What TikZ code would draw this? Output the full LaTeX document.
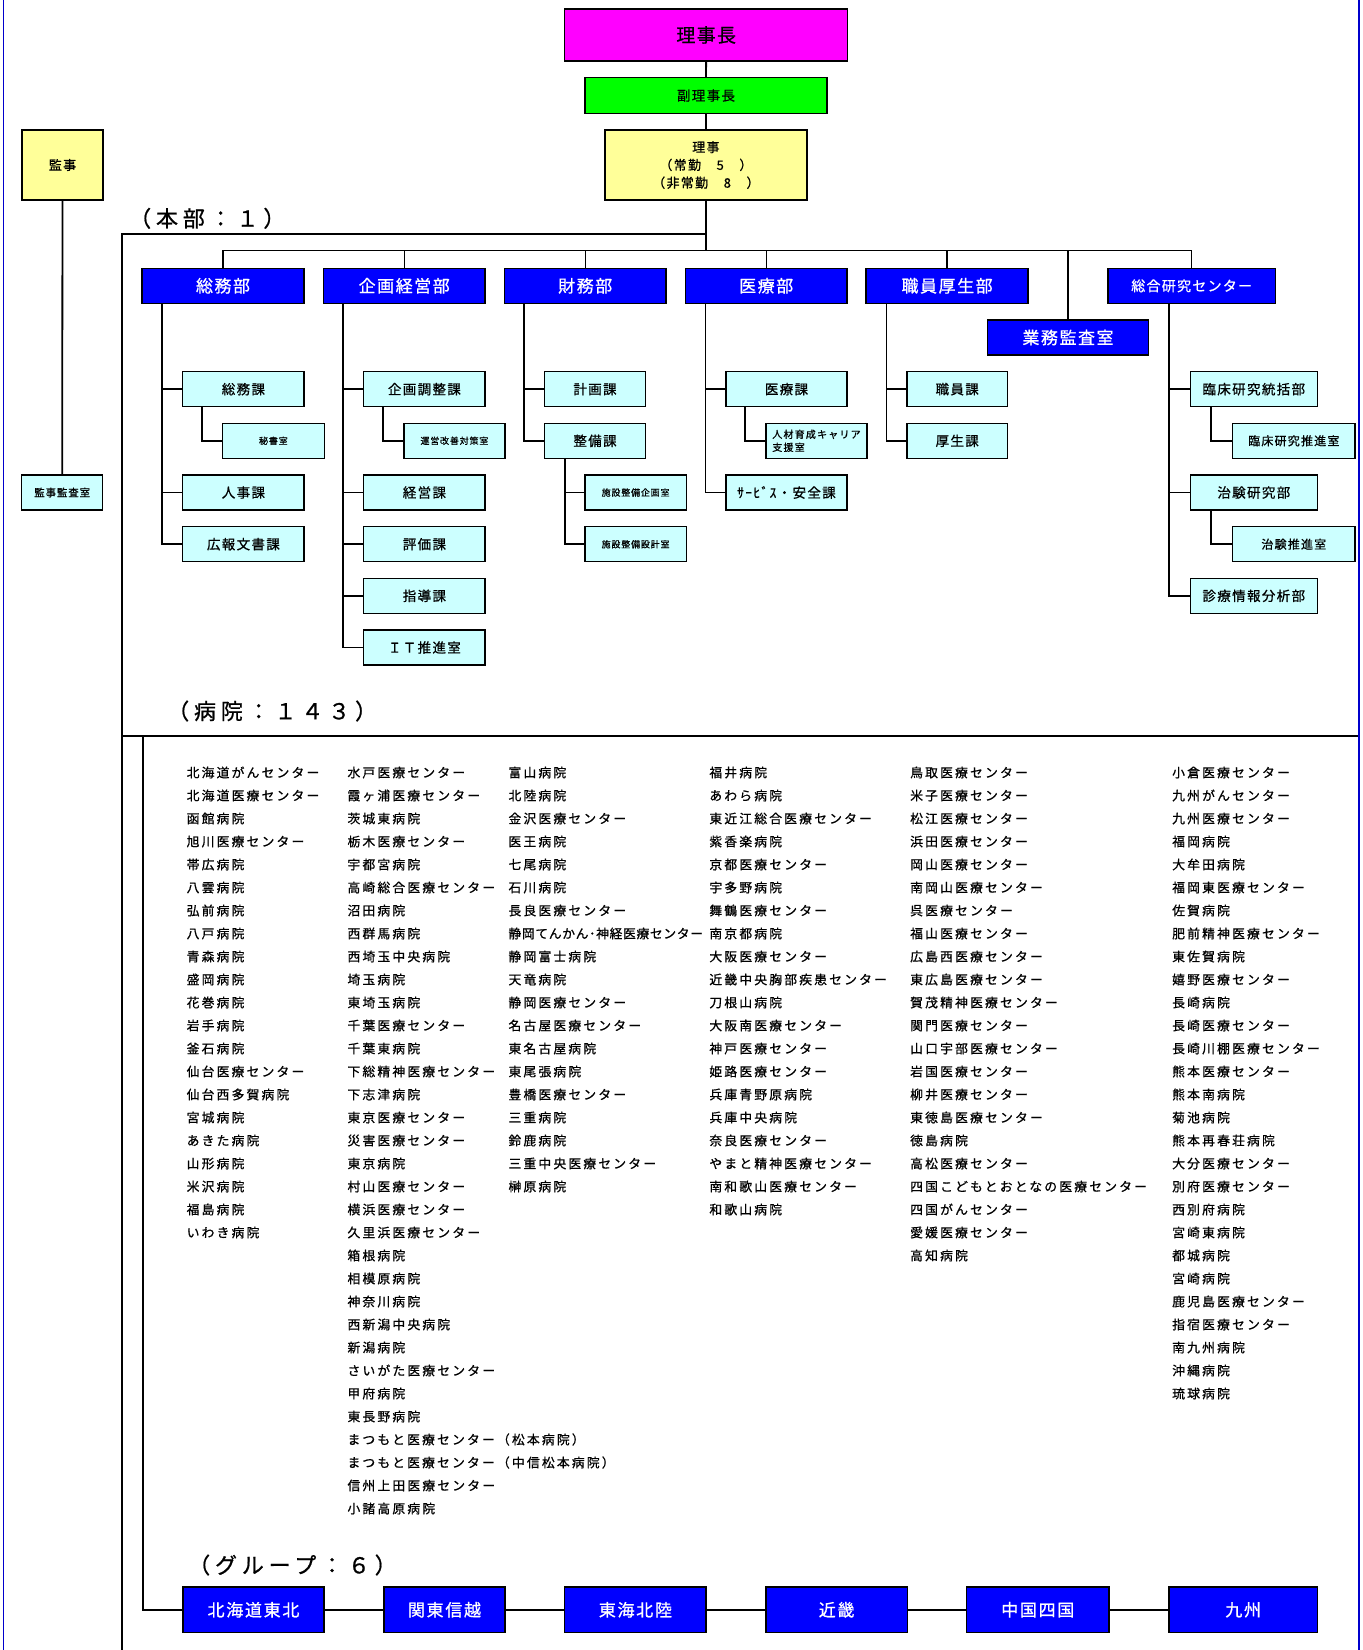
\documentclass[tikz,border=0pt]{standalone}
\usepackage{fontspec}
\setmainfont[FakeBold=0.8]{Noto Sans CJK JP}
\newcommand\jls[2]{\fontsize{#1}{#1}\selectfont\addfontfeature{LetterSpace=#2}}
\newcommand\jlt[3]{\fontsize{#1}{#2}\selectfont\addfontfeature{LetterSpace=#3}}
\definecolor{mag}{HTML}{FF00FF}
\definecolor{grn}{HTML}{00FF00}
\definecolor{ylw}{HTML}{FFFF99}
\definecolor{cyn}{HTML}{CCFFFF}
\definecolor{dblue}{HTML}{0000FF}
\definecolor{edge}{HTML}{0000CC}
\tikzset{
  bx/.style={draw=black,line width=1.4pt,inner sep=0pt,align=center},
  wh/.style 2 args={minimum width=#1,minimum height=#2},
  deptbox/.style={bx,fill=dblue,text=white,font=\jls{17}{9}},
  subbox/.style={bx,fill=cyn,font=\jls{13.5}{10}},
  smallbox/.style={bx,fill=cyn,font=\jls{9}{9}},
  grpbox/.style={bx,fill=dblue,text=white,font=\jls{17}{10}},
  hosp/.style={anchor=west,inner sep=0pt,font=\jls{12.8}{17}},
  ln/.style={line width=1.8pt,black},
  busln/.style={line width=1.4pt,black},
  lbl/.style={anchor=west,inner sep=0pt,font=\jls{22}{22}},
}
\begin{document}
\begin{tikzpicture}[x=1pt,y=-1pt]
\useasboundingbox (0,0) rectangle (1363,1650);
% page edges
\coordinate (eLt) at (3.3,0); \coordinate (eLb) at (3.3,1650);
\coordinate (eRt) at (1359,0); \coordinate (eRb) at (1359,1650);
\draw[edge,line width=1.2pt] (eLt) -- (eLb);
\draw[edge,line width=2.4pt] (eRt) -- (eRb);

% top
\node[bx,fill=mag,wh={283}{52},font=\jls{19}{7}] (rijicho) at (706.2,35) {理事長};
\node[bx,fill=grn,wh={242}{35.6},font=\jls{13.5}{10}] (fuku) at (706,95.5) {副理事長};
\node[bx,fill=ylw,wh={202}{70},font=\jlt{13}{17.8}{10}] (riji) at (705.9,165) {理事\\（常勤　5　）\\（非常勤　8　）};
\node[bx,fill=ylw,wh={81}{70},font=\jls{13}{10}] (kanji) at (62.5,165) {監事};
\node[bx,fill=cyn,wh={81}{35},font=\jls{10.5}{8}] (kansa) at (62.2,492.5) {監事監査室};
\draw[ln] (rijicho) -- (fuku);
\draw[ln] (fuku) -- (riji);
\draw[ln] (kanji) -- (kansa);

% departments
\node[deptbox,wh={162}{35}] (somu) at (223,285.8) {総務部};
\node[deptbox,wh={161.5}{35}] (kikaku) at (404.2,285.8) {企画経営部};
\node[deptbox,wh={161.5}{35}] (zaimu) at (585.2,285.8) {財務部};
\node[deptbox,wh={161.5}{35}] (iryo) at (766.2,285.8) {医療部};
\node[deptbox,wh={162}{35}] (shokuin) at (947.1,285.8) {職員厚生部};
\node[deptbox,wh={167.6}{35},font=\jls{14}{9}] (sogo) at (1191.7,285.8) {総合研究センター};
\node[deptbox,wh={161.3}{35}] (gyomu) at (1068,337.5) {業務監査室};

% frame and bus
\coordinate (frameTop) at (122.3,234);
\coordinate (frameBot) at (122.3,1650);
\coordinate (bus) at (706,250.7);
\draw[ln] (riji.south) -- (riji.south |- bus);
\draw[ln] (riji.south |- frameTop) -- (frameTop) -- (frameBot);
\draw[busln] (somu.north) -- (somu.north |- bus) -- (sogo.north |- bus) -- (sogo.north);
\foreach \d in {kikaku,zaimu,iryo,shokuin,gyomu}
  \draw[busln] (\d.north) -- (\d.north |- bus);

% sub boxes: rows 389.2 440.8 492.5 544.2 595.8 647.5
\node[subbox,wh={121.3}{35}] (somuka) at (243.4,389.2) {総務課};
\node[smallbox,wh={101.8}{35}] (hisho) at (273.4,440.8) {秘書室};
\node[subbox,wh={121.3}{35}] (jinji) at (243.4,492.5) {人事課};
\node[subbox,wh={121.3}{35}] (koho) at (243.4,544.2) {広報文書課};

\node[subbox,wh={121.3}{35}] (kchosei) at (424.4,389.2) {企画調整課};
\node[smallbox,wh={101}{35}] (unei) at (454.4,440.8) {運営改善対策室};
\node[subbox,wh={121.3}{35}] (keiei) at (424.4,492.5) {経営課};
\node[subbox,wh={121.3}{35}] (hyoka) at (424.4,544.2) {評価課};
\node[subbox,wh={121.3}{35}] (shido) at (424.4,595.8) {指導課};
\node[subbox,wh={121.3}{35}] (itsui) at (424.4,647.5) {ＩＴ推進室};

\node[subbox,wh={100.6}{35}] (keikaku) at (595,389.2) {計画課};
\node[subbox,wh={100.6}{35}] (seibi) at (595,440.8) {整備課};
\node[smallbox,wh={101.4}{35}] (sskikaku) at (635.6,492.5) {施設整備企画室};
\node[smallbox,wh={101.4}{35}] (sssekkei) at (635.6,544.2) {施設整備設計室};

\node[subbox,wh={121.1}{35}] (iryoka) at (786.5,389.2) {医療課};
\node[smallbox,wh={101.3}{35},align=left,font=\jlt{10}{13}{12}] (jinzai) at (816.5,440.8) {人材育成キャリア\\支援室};
\node[subbox,wh={121.1}{35}] (service) at (786.5,492.5) {ｻｰﾋﾞｽ・安全課};

\node[subbox,wh={100.4}{35}] (shokuinka) at (957.2,389.2) {職員課};
\node[subbox,wh={100.4}{35}] (kosei) at (957.2,440.8) {厚生課};

\node[subbox,wh={127}{35}] (rinsho) at (1253.8,389.2) {臨床研究統括部};
\node[smallbox,wh={122.5}{35},font=\jls{12}{10}] (rsuishin) at (1293.8,440.8) {臨床研究推進室};
\node[subbox,wh={127}{35}] (chiken) at (1253.8,492.5) {治験研究部};
\node[smallbox,wh={122.5}{35},font=\jls{12}{10}] (csuishin) at (1293.8,544.2) {治験推進室};
\node[subbox,wh={127}{35}] (shinryo) at (1253.8,595.8) {診療情報分析部};

% trees
\coordinate (tA) at ([xshift=21pt]somu.south west);
\foreach \s in {somuka,jinji,koho} \draw[ln] (tA) |- (\s.west);
\draw[ln] ([xshift=20.3pt]somuka.south west) |- (hisho.west);
\coordinate (tB) at ([xshift=20.3pt]kikaku.south west);
\foreach \s in {kchosei,keiei,hyoka,shido,itsui} \draw[ln] (tB) |- (\s.west);
\draw[ln] ([xshift=20.3pt]kchosei.south west) |- (unei.west);
\coordinate (tC) at ([xshift=20.3pt]zaimu.south west);
\foreach \s in {keikaku,seibi} \draw[ln] (tC) |- (\s.west);
\foreach \s in {sskikaku,sssekkei} \draw[ln] ([xshift=20.7pt]seibi.south west) |- (\s.west);
\coordinate (tD) at ([xshift=20.7pt]iryo.south west);
\foreach \s in {iryoka,service} \draw[ln] (tD) |- (\s.west);
\draw[ln] ([xshift=20.1pt]iryoka.south west) |- (jinzai.west);
\coordinate (tE) at ([xshift=21.1pt]shokuin.south west);
\foreach \s in {shokuinka,kosei} \draw[ln] (tE) |- (\s.west);
\coordinate (tF) at ([xshift=61.4pt]sogo.south west);
\foreach \s in {rinsho,chiken,shinryo} \draw[ln] (tF) |- (\s.west);
\draw[ln] ([xshift=21.1pt]rinsho.south west) |- (rsuishin.west);
\draw[ln] ([xshift=21.1pt]chiken.south west) |- (csuishin.west);

% labels
\node[lbl] (lblhonbu) at (129,218.3) {（本部：１）};
\node[lbl] (lblhosp) at (167,711) {（病院：１４３）};
\node[lbl] (lblgrp) at (188,1565) {（グループ：６）};

% hospital frame
\coordinate (hospL) at (122.3,736);
\coordinate (hospR) at (1358,736);
\coordinate (grpTop) at (142.9,736);
\draw[ln] (hospL) -- (hospR);

% hospitals
\foreach \t [count=\i from 0] in {北海道がんセンター,北海道医療センター,函館病院,旭川医療センター,帯広病院,八雲病院,弘前病院,八戸病院,青森病院,盛岡病院,花巻病院,岩手病院,釜石病院,仙台医療センター,仙台西多賀病院,宮城病院,あきた病院,山形病院,米沢病院,福島病院,いわき病院}
  \node[hosp] (hA\i) at (186.5,{772.5+23*\i}) {\t};
\foreach \t [count=\i from 0] in {水戸医療センター,霞ヶ浦医療センター,茨城東病院,栃木医療センター,宇都宮病院,高崎総合医療センター,沼田病院,西群馬病院,西埼玉中央病院,埼玉病院,東埼玉病院,千葉医療センター,千葉東病院,下総精神医療センター,下志津病院,東京医療センター,災害医療センター,東京病院,村山医療センター,横浜医療センター,久里浜医療センター,箱根病院,相模原病院,神奈川病院,西新潟中央病院,新潟病院,さいがた医療センター,甲府病院,東長野病院,まつもと医療センター（松本病院）,まつもと医療センター（中信松本病院）,信州上田医療センター,小諸高原病院}
  \node[hosp] (hB\i) at (347.3,{772.5+23*\i}) {\t};
\foreach \t [count=\i from 0] in {富山病院,北陸病院,金沢医療センター,医王病院,七尾病院,石川病院,長良医療センター,{\addfontfeature{LetterSpace=5}静岡てんかん･神経医療センター},静岡富士病院,天竜病院,静岡医療センター,名古屋医療センター,東名古屋病院,東尾張病院,豊橋医療センター,三重病院,鈴鹿病院,三重中央医療センター,榊原病院}
  \node[hosp] (hC\i) at (508.3,{772.5+23*\i}) {\t};
\foreach \t [count=\i from 0] in {福井病院,あわら病院,東近江総合医療センター,紫香楽病院,京都医療センター,宇多野病院,舞鶴医療センター,南京都病院,大阪医療センター,近畿中央胸部疾患センター,刀根山病院,大阪南医療センター,神戸医療センター,姫路医療センター,兵庫青野原病院,兵庫中央病院,奈良医療センター,やまと精神医療センター,南和歌山医療センター,和歌山病院}
  \node[hosp] (hD\i) at (709.2,{772.5+23*\i}) {\t};
\foreach \t [count=\i from 0] in {鳥取医療センター,米子医療センター,松江医療センター,浜田医療センター,岡山医療センター,南岡山医療センター,呉医療センター,福山医療センター,広島西医療センター,東広島医療センター,賀茂精神医療センター,関門医療センター,山口宇部医療センター,岩国医療センター,柳井医療センター,東徳島医療センター,徳島病院,高松医療センター,四国こどもとおとなの医療センター,四国がんセンター,愛媛医療センター,高知病院}
  \node[hosp] (hE\i) at (910,{772.5+23*\i}) {\t};
\foreach \t [count=\i from 0] in {小倉医療センター,九州がんセンター,九州医療センター,福岡病院,大牟田病院,福岡東医療センター,佐賀病院,肥前精神医療センター,東佐賀病院,嬉野医療センター,長崎病院,長崎医療センター,長崎川棚医療センター,熊本医療センター,熊本南病院,菊池病院,熊本再春荘病院,大分医療センター,別府医療センター,西別府病院,宮崎東病院,都城病院,宮崎病院,鹿児島医療センター,指宿医療センター,南九州病院,沖縄病院,琉球病院}
  \node[hosp] (hF\i) at (1172,{772.5+23*\i}) {\t};

% groups
\node[grpbox,wh={141}{45.5}] (hok) at (253.5,1609.8) {北海道東北};
\node[grpbox,wh={121}{45.5}] (kanto) at (444.5,1609.8) {関東信越};
\node[grpbox,wh={141.3}{45.5}] (tokai) at (635.4,1609.8) {東海北陸};
\node[grpbox,wh={141.6}{45.5}] (kinki) at (836.6,1609.8) {近畿};
\node[grpbox,wh={142.4}{45.5}] (chugoku) at (1037.8,1609.8) {中国四国};
\node[grpbox,wh={148.3}{45.5}] (kyushu) at (1243.2,1609.8) {九州};
\draw[ln] (grpTop) |- (hok.west);
\draw[busln] (hok) -- (kanto);
\draw[busln] (kanto) -- (tokai);
\draw[busln] (tokai) -- (kinki);
\draw[busln] (kinki) -- (chugoku);
\draw[busln] (chugoku) -- (kyushu);
\end{tikzpicture}
\end{document}
